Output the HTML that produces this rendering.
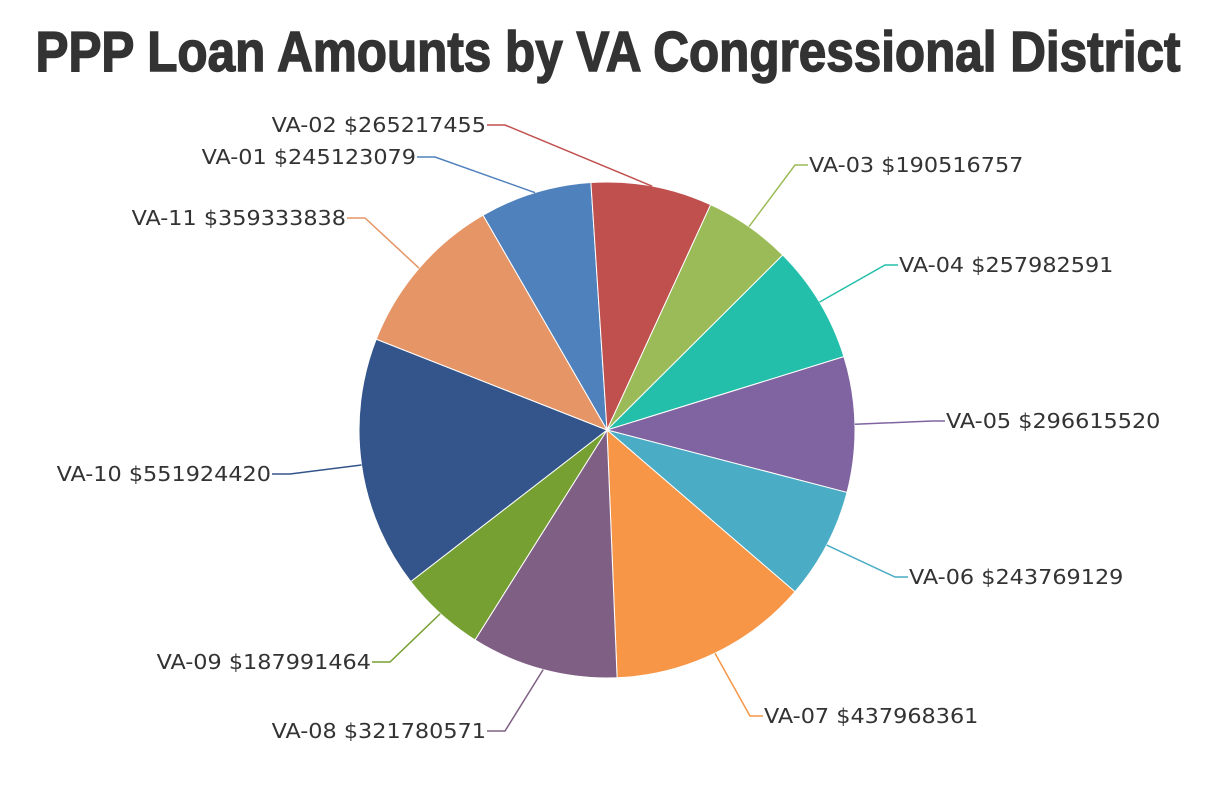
<!DOCTYPE html>
<html><head><meta charset="utf-8">
<style>
html,body{margin:0;padding:0;background:#fff;}
svg{display:block;}
</style></head>
<body>
<svg id="chart" width="1206" height="808" xmlns="http://www.w3.org/2000/svg">
<rect width="1206" height="808" fill="#fff"/>
<text x="608" y="71" text-anchor="middle" font-family="'Liberation Sans', sans-serif" font-weight="bold" font-size="57" fill="#333" stroke="#333" stroke-width="1.5" textLength="1145" lengthAdjust="spacingAndGlyphs">PPP Loan Amounts by VA Congressional District</text>
<g id="slices"></g>
<g id="labels"></g>
</svg>
<script>
const categories = ["VA-01","VA-02","VA-03","VA-04","VA-05","VA-06","VA-07","VA-08","VA-09","VA-10","VA-11"];
const values = [245123079,265217455,190516757,257982591,296615520,243769129,437968361,321780571,187991464,551924420,359333838];
const colors = ["#4F81BC","#C0504E","#9BBB58","#23BFAA","#8064A1","#4AACC5","#F79647","#7F6084","#77A033","#33558B","#E59566"];
// layout: label elbow points (not data)
const labelElbows = [[435,157],[505,125],[795,165],[885,265],[932,421],[895,577],[750,716],[505,731],[390,662],[290,474],[365,218]];

const NS="http://www.w3.org/2000/svg";
const cx=607, cy=430, r=248, startAngle=240;
const total=values.reduce((a,b)=>a+b,0);
const gS=document.getElementById('slices'), gL=document.getElementById('labels');
function pt(deg,rad){const a=deg*Math.PI/180;return [cx+rad*Math.cos(a), cy+rad*Math.sin(a)];}
let ang=startAngle;
values.forEach((v,i)=>{
  const sweep=v/total*360;
  const a0=ang, a1=ang+sweep, mid=ang+sweep/2;
  const p0=pt(a0,r), p1=pt(a1,r);
  const path=document.createElementNS(NS,'path');
  path.setAttribute('d',`M${cx},${cy} L${p0[0]},${p0[1]} A${r},${r} 0 ${sweep>180?1:0} 1 ${p1[0]},${p1[1]} Z`);
  path.setAttribute('fill',colors[i]);
  path.setAttribute('stroke','#fff');
  path.setAttribute('stroke-width','1');
  
  
  gS.appendChild(path);
  const e=pt(mid,r), el=labelElbows[i];
  const right = el[0]>cx;
  const endX = right? el[0]+13 : el[0]-18;
  const line=document.createElementNS(NS,'polyline');
  line.setAttribute('points',`${e[0]},${e[1]} ${el[0]},${el[1]} ${endX},${el[1]}`);
  line.setAttribute('fill','none');
  line.setAttribute('stroke',colors[i]);
  line.setAttribute('stroke-width','1.5');
  
  
  gL.appendChild(line);
  const t=document.createElementNS(NS,'text');
  const txt=categories[i]+' $'+v;
  t.setAttribute('x', right? endX+1 : endX-1);
  t.setAttribute('y', el[1]+7);
  t.setAttribute('text-anchor', right?'start':'end');
  t.setAttribute('font-family',"'DejaVu Sans', 'Liberation Sans', sans-serif");
  t.setAttribute('font-size','20');
  t.setAttribute('fill','#333');
  t.setAttribute('textLength', String(txt.length*13.4));
  t.setAttribute('lengthAdjust','spacingAndGlyphs');
  t.textContent=txt;
  
  
  gL.appendChild(t);
  ang=a1;
});
</script>
</body></html>
